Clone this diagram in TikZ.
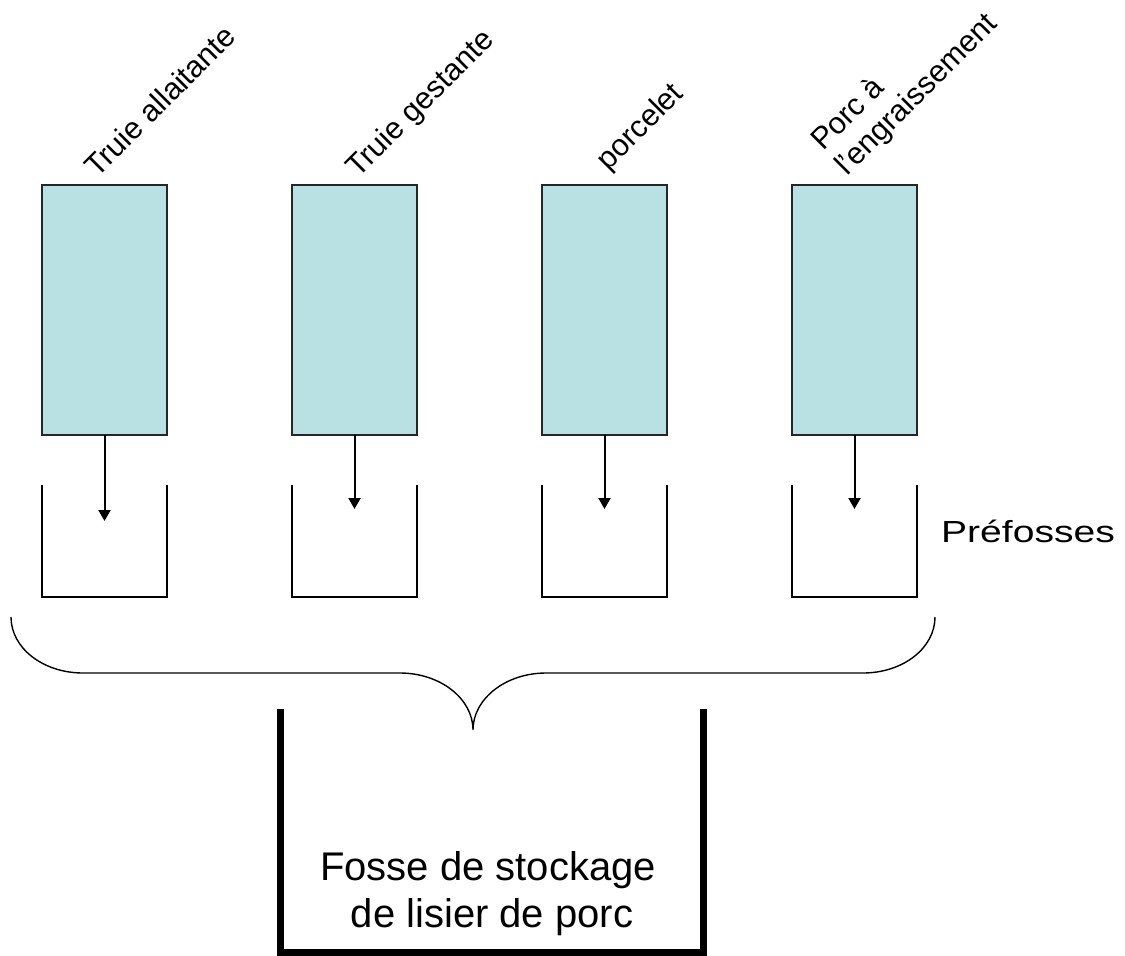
\documentclass[tikz,border=0pt]{standalone}
\usepackage{fontspec}
\setmainfont{Liberation Sans}
\usetikzlibrary{arrows.meta}
\definecolor{boxfill}{RGB}{185,224,226}
\definecolor{boxline}{RGB}{38,38,38}
\tikzset{
  stall/.style={draw=boxline, fill=boxfill, line width=2pt, minimum width=125pt, minimum height=250pt, anchor=north west, inner sep=0pt, outer sep=0pt},
  lab/.style={anchor=base west, rotate=45, inner sep=0pt, font=\fontsize{30.5}{36.6}\selectfont},
  side/.style={anchor=base west, inner sep=0pt, font=\fontsize{30.5}{36.6}\selectfont},
  pit/.style={draw=black, line width=2pt, line join=miter},
  flow/.style={draw=black, line width=2pt, -{Triangle[width=12pt,length=11pt]}},
  brace/.style={draw=black, line width=1.4pt},
  store/.style={draw=black, line width=7pt, line join=miter},
  big/.style={anchor=base, inner sep=0pt, font=\fontsize{40}{48}\selectfont}
}
\begin{document}
\begin{tikzpicture}[x=1pt,y=-1pt]
\useasboundingbox (0,0) rectangle (1125,956);
% stalls
\node[stall] (b1) at (42,185) {};
\node[stall] (b2) at (292,185) {};
\node[stall] (b3) at (542,185) {};
\node[stall] (b4) at (792,185) {};
% labels
\node[lab] (l1) at (97,179) {Truie allaitante};
\node[lab] (l2) at (358,179) {Truie gestante};
\node[lab] (l3) at (608,172) {porcelet};
\node[lab] (l4a) at (823,152) {Porc à};
\node[lab] (l4b) at (847,177) {l’engraissement};
% pits
\foreach \x in {42,292,542,792}{
  \draw[pit] (\x,485) |- (\x+125,597) -- (\x+125,485);
}
\coordinate (p1) at (104.5,521);
\coordinate (p2) at (354.5,509);
\coordinate (p3) at (604.5,509);
\coordinate (p4) at (854.5,509);
\draw[flow] (b1.south) -- (p1);
\draw[flow] (b2.south) -- (p2);
\draw[flow] (b3.south) -- (p3);
\draw[flow] (b4.south) -- (p4);
\node[side] (pref) at (941,542) {\scalebox{1.28}[1]{Préfosses}};
% brace
\draw[brace] (11,617) .. controls (11,648) and (43,673) .. (83,673)
  -- (400,673) .. controls (440,673) and (473,698.5) .. (473,730)
  .. controls (473,698.5) and (506,673) .. (546,673)
  -- (863,673) .. controls (903,673) and (935,648) .. (935,617);
% storage pit
\draw[store] (280,709) -- (280,952) -- (703,952) -- (703,709);
\node[big] (f1) at (488,880) {Fosse de stockage};
\node[big] (f2) at (492,927) {de lisier de porc};
\end{tikzpicture}
\end{document}
